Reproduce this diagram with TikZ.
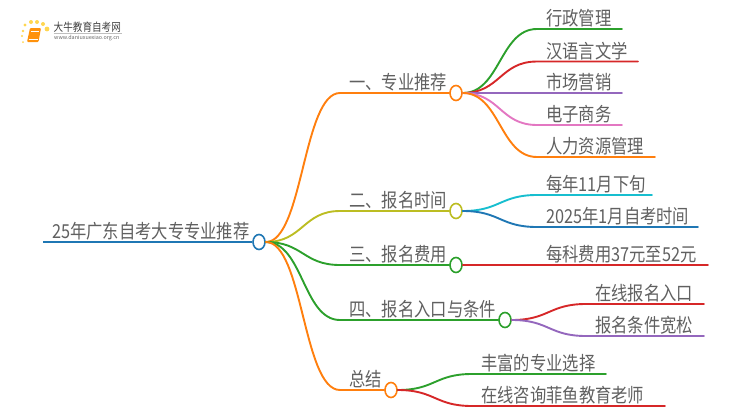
\documentclass[tikz,border=0pt]{standalone}
\usepackage{fontspec}
\usepackage{graphicx}
\setmainfont{Noto Sans CJK SC}
\usetikzlibrary{shapes.geometric}
\definecolor{cblue}{HTML}{1F77B4}
\definecolor{corange}{HTML}{FF7F0E}
\definecolor{colive}{HTML}{BCBD22}
\definecolor{cgreen}{HTML}{2CA02C}
\definecolor{cred}{HTML}{D62728}
\definecolor{cpurple}{HTML}{9467BD}
\definecolor{cpink}{HTML}{E377C2}
\definecolor{ccyan}{HTML}{17BECF}
\definecolor{ctext}{HTML}{606060}
\newcommand{\tall}[1]{\scalebox{1}[1.18]{#1}}
\tikzset{
  knot/.style={ellipse, draw, fill=white, line width=1.6pt, minimum width=12pt, minimum height=15pt, inner sep=0pt},
  caption/.style={anchor=south west, inner sep=0pt, text=ctext, font=\fontsize{16.3}{17}\selectfont},
  branch/.style={line width=1.9pt, line cap=round},
}
\begin{document}
\begin{tikzpicture}[x=1pt, y=-1pt]
    \useasboundingbox (0,0) rectangle (750,410);

    % Logo
    \foreach \x/\y/\r in {25/25/1.6, 31/22/2, 37/22/2, 43/24/2, 47/29/2.4, 23/31/1.4, 22/36/1.2, 23/42/1}
        \fill[corange!45!yellow, opacity=0.7] (\x,\y) circle (\r);
    \fill[corange!85!yellow, rounded corners=1pt] (30,28) -- (41,28) -- (38.5,42) -- (27,42) -- cycle;
    \draw[white, line width=0.5pt] (31,31) -- (39,31) (28.5,39.5) -- (37.5,39.5);
    \node[anchor=west, inner sep=0pt, text=black!75, font=\fontsize{9.6}{10}\selectfont] (logotitle) at (53.5,27) {\tall{大牛教育自考网}};
    \node[anchor=west, inner sep=0pt, text=black!60, font=\fontsize{5.4}{6}\selectfont] (logourl) at (54,38) {www.daniuxuexiao.org.cn};
    \draw[black!25, line width=0.4pt] (53.5,33) -- (122,33);

    % Racine
    \node[knot, draw=cblue] (root) at (259,242) {};
    \coordinate (rootstart) at (43,242);
    \draw[line width=2.6pt, cblue] (rootstart) -- (root);
    \node[caption] (roottext) at (52,240.5) {\tall{25年广东自考大专专业推荐}};

    % Les 5 branches : hauteur, position du noeud, couleur, texte
    \foreach \y/\xn/\col/\txt [count=\i] in {
        93/456/corange/{一、专业推荐},
        211/456/colive/{二、报名时间},
        265/456/cgreen/{三、报名费用},
        320/505/cgreen/{四、报名入口与条件},
        390/391/corange/{总结}} {
        \node[knot, draw=\col] (b\i) at (\xn,\y) {};
        \coordinate (bj\i) at (340,\y);
        \draw[branch, \col] (root.east) .. controls (303,242) and (303,\y) .. (bj\i) -- (b\i.west);
        \node[caption] (btext\i) at (349,\y-1.5) {\tall{\txt}};
    }

    % Les feuilles : noeud parent, depart x, depart y, hauteur, fin de ligne, debut du texte, couleur, texte
    \foreach \p/\xf/\yf/\y/\xe/\xs/\col/\txt [count=\i] in {
        1/463/93/29/622/546/cgreen/{行政管理},
        1/463/93/61.5/638/546/cred/{汉语言文学},
        1/463/93/93/622/546/cpurple/{市场营销},
        1/463/93/125/622/546/cpink/{电子商务},
        1/463/93/157/655/546/corange/{人力资源管理},
        2/463/211/195/652/546/ccyan/{每年11月下旬},
        2/463/211/227/698/546/cblue/{2025年1月自考时间},
        4/512/320/304/704/595/cred/{在线报名入口},
        4/512/320/336/704/595/cpurple/{报名条件宽松},
        5/398/390/374/606/481/cgreen/{丰富的专业选择},
        5/398/390/406/665/481/cred/{在线咨询菲鱼教育老师}} {
        \pgfmathsetmacro{\xm}{(\xf+\xs-9)/2}
        \coordinate (lj\i) at (\xs-9,\y);
        \coordinate (le\i) at (\xe,\y);
        \draw[branch, \col] (b\p.east) .. controls (\xm,\yf) and (\xm,\y) .. (lj\i) -- (le\i);
        \node[caption] (ltext\i) at (\xs,\y-1.5) {\tall{\txt}};
    }

    % Branche sans embranchement
    \coordinate (le12) at (708,265);
    \draw[branch, cred] (b3.east) -- (le12);
    \node[caption] (ltext12) at (546,263.5) {\tall{每科费用37元至52元}};
\end{tikzpicture}
\end{document}
